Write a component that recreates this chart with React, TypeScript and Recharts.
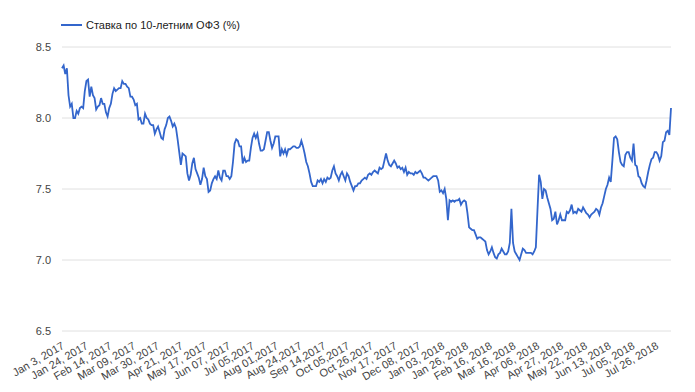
import React from "react";
import { LineChart, Line, XAxis, YAxis, CartesianGrid } from "recharts";

const seriesName = "Ставка по 10-летним ОФЗ (%)";

const values2017a: number[] = [
  8.35, 8.37, 8.31, 8.35, 8.16, 8.08, 8.10, 8.00, 8.00, 8.05, 8.03, 8.07, 8.08, 8.07, 8.19, 8.26, 8.27, 8.15, 8.22, 8.16,
  8.14, 8.06, 8.08, 8.09, 8.14, 8.10, 8.10, 8.04, 8.01, 8.07, 8.10, 8.17, 8.21, 8.19, 8.20, 8.21, 8.21, 8.26, 8.24, 8.24,
  8.22, 8.21, 8.15, 8.15, 8.13, 8.09, 8.10, 7.99, 8.00, 7.96, 7.96, 8.03, 8.00, 7.99, 7.96, 7.95, 7.95, 7.89, 7.92, 7.94,
  7.90, 7.86, 7.85, 7.92, 7.95,
];
const values2017b: number[] = [
  8.00, 8.01, 7.98, 7.94, 7.96, 7.93, 7.85, 7.76, 7.67, 7.75, 7.74, 7.73, 7.61, 7.56, 7.60, 7.68, 7.72, 7.64, 7.61, 7.58,
  7.53, 7.57, 7.65, 7.59, 7.57, 7.48, 7.49, 7.54, 7.57, 7.59, 7.57, 7.63, 7.58, 7.56, 7.63, 7.63, 7.59, 7.59, 7.57, 7.59,
  7.69, 7.82, 7.85, 7.84, 7.80, 7.80, 7.68, 7.72, 7.69, 7.70, 7.70, 7.79, 7.86, 7.89, 7.86, 7.89, 7.82, 7.77, 7.77, 7.78,
  7.84, 7.90, 7.90,
];
const values2017c: number[] = [
  7.84, 7.79, 7.82, 7.87, 7.87, 7.87, 7.73, 7.78, 7.75, 7.78, 7.74, 7.78, 7.78, 7.79, 7.80, 7.80, 7.79, 7.79, 7.80, 7.84,
  7.80, 7.75, 7.69, 7.66, 7.61, 7.55, 7.52, 7.52, 7.52, 7.56, 7.55, 7.57, 7.54, 7.57, 7.55, 7.58, 7.57, 7.58, 7.63, 7.66,
  7.61, 7.59, 7.56, 7.60, 7.62, 7.59, 7.56, 7.61, 7.59, 7.55, 7.52, 7.49, 7.52, 7.52, 7.54, 7.54, 7.56, 7.57, 7.58, 7.57,
  7.60, 7.61, 7.60, 7.62, 7.63,
];
const values2017d: number[] = [
  7.62, 7.61, 7.65, 7.64, 7.65, 7.70, 7.75, 7.70, 7.67, 7.66, 7.68, 7.70, 7.68, 7.65, 7.66, 7.64, 7.65, 7.62, 7.65, 7.60,
  7.62, 7.61, 7.61, 7.60, 7.62, 7.61, 7.62, 7.63, 7.61, 7.58, 7.58, 7.57, 7.56, 7.57, 7.58, 7.59, 7.59, 7.59, 7.56, 7.48,
  7.49, 7.47, 7.50, 7.43, 7.28, 7.42, 7.41, 7.42, 7.41, 7.42, 7.42, 7.43, 7.39, 7.41, 7.42, 7.41, 7.33, 7.23, 7.22, 7.21,
  7.21, 7.18, 7.15, 7.16, 7.16, 7.15,
];
const values2018a: number[] = [
  7.14, 7.13, 7.07, 7.04, 7.06, 7.09, 7.05, 7.02, 7.01, 7.04, 7.05, 7.08, 7.06, 7.04, 7.04, 7.06, 7.12, 7.36, 7.12, 7.06,
  7.04, 7.02, 7.00, 7.04, 7.08, 7.07, 7.05, 7.05, 7.05, 7.05, 7.04, 7.06, 7.09, 7.35, 7.60, 7.55, 7.43, 7.50, 7.49, 7.44,
  7.40, 7.36, 7.28, 7.29, 7.34, 7.25, 7.28, 7.32, 7.28, 7.28, 7.28, 7.34, 7.33, 7.35, 7.39, 7.33, 7.34, 7.33, 7.36, 7.35,
  7.34,
];
const values2018b: number[] = [
  7.37, 7.35, 7.33, 7.32, 7.30, 7.32, 7.33, 7.34, 7.36, 7.35, 7.32, 7.37, 7.40, 7.45, 7.50, 7.53, 7.58, 7.55, 7.70, 7.86,
  7.87, 7.85, 7.76, 7.69, 7.67, 7.66, 7.74, 7.76, 7.76, 7.72, 7.70, 7.82, 7.67, 7.66, 7.59, 7.58, 7.54, 7.52, 7.51, 7.56,
  7.62, 7.67, 7.71, 7.72, 7.76, 7.76, 7.74, 7.70, 7.73, 7.83, 7.84, 7.90, 7.91, 7.88, 8.07,
];

const values: number[] = [
  ...values2017a, ...values2017b, ...values2017c, ...values2017d, ...values2018a, ...values2018b,
];

const tickLabels: string[] = [
  "Jan 3, 2017", "Jan 24, 2017", "Feb 14, 2017", "Mar 09, 2017", "Mar 30, 2017", "Apr 21, 2017",
  "May 17, 2017", "Jun 07, 2017", "Jul 05,2017", "Aug 01,2017", "Aug 24,2017", "Sep 14,2017",
  "Oct 05,2017", "Oct 26,2017", "Nov 17, 2017", "Dec 08, 2017", "Jan 03, 2018", "Jan 26, 2018",
  "Feb 16, 2018", "Mar 16, 2018", "Apr 06, 2018", "Apr 27, 2018", "May 22, 2018", "Jun 13, 2018",
  "Jul 05, 2018", "Jul 26, 2018",
];

const yTicks: number[] = [6.5, 7.0, 7.5, 8.0, 8.5];

const data = values.map((v, i) => ({ i, v }));
const N = values.length;
const LABEL_STEP = (N - 1) / 25.62;
const xTicks = tickLabels.map((_, k) => k * LABEL_STEP);

const FONT = "Arial, 'Liberation Sans', sans-serif";

const XTick = (props: any) => {
  const { x, y, payload } = props;
  const k = Math.round(payload.value / LABEL_STEP);
  const tx = x + 3;
  const ty = y + 9;
  return (
    <text
      x={tx}
      y={ty}
      textAnchor="end"
      transform={`rotate(-30 ${tx} ${ty})`}
      fontSize={11}
      fontFamily={FONT}
      fill="#444"
    >
      {tickLabels[k]}
    </text>
  );
};

export default function App() {
  return (
    <div style={{ position: "absolute", left: 0, top: 0, width: 695, height: 392, background: "#fff" }}>
      <LineChart
        width={695}
        height={392}
        data={data}
        margin={{ top: 47, right: 24, bottom: 0, left: 0 }}
      >
        <CartesianGrid vertical={false} stroke="#e0e0e0" strokeWidth={1} />
        <XAxis
          type="number"
          dataKey="i"
          domain={[0, N - 1]}
          ticks={xTicks}
          interval={0}
          axisLine={false}
          tickLine={false}
          height={61}
          tick={<XTick />}
        />
        <YAxis
          type="number"
          domain={[6.5, 8.5]}
          ticks={yTicks}
          tickFormatter={(v: number) => v.toFixed(1)}
          axisLine={false}
          tickLine={false}
          tickSize={0}
          tickMargin={11}
          width={62}
          tick={{ fontSize: 11, fill: "#444", fontFamily: FONT }}
        />
        <Line
          type="linear"
          dataKey="v"
          stroke="#3366cc"
          strokeWidth={1.8}
          dot={false}
          isAnimationActive={false}
        />
      </LineChart>
      <div
        style={{
          position: "absolute",
          left: 61,
          top: 17,
          display: "flex",
          alignItems: "center",
          fontFamily: FONT,
          fontSize: 11,
          color: "#222",
          whiteSpace: "nowrap",
        }}
      >
        <svg width={21} height={16} style={{ display: "block" }}>
          <line x1={0} y1={8} x2={21} y2={8} stroke="#3366cc" strokeWidth={2} />
        </svg>
        <span style={{ marginLeft: 4, lineHeight: "16px" }}>{seriesName}</span>
      </div>
    </div>
  );
}
